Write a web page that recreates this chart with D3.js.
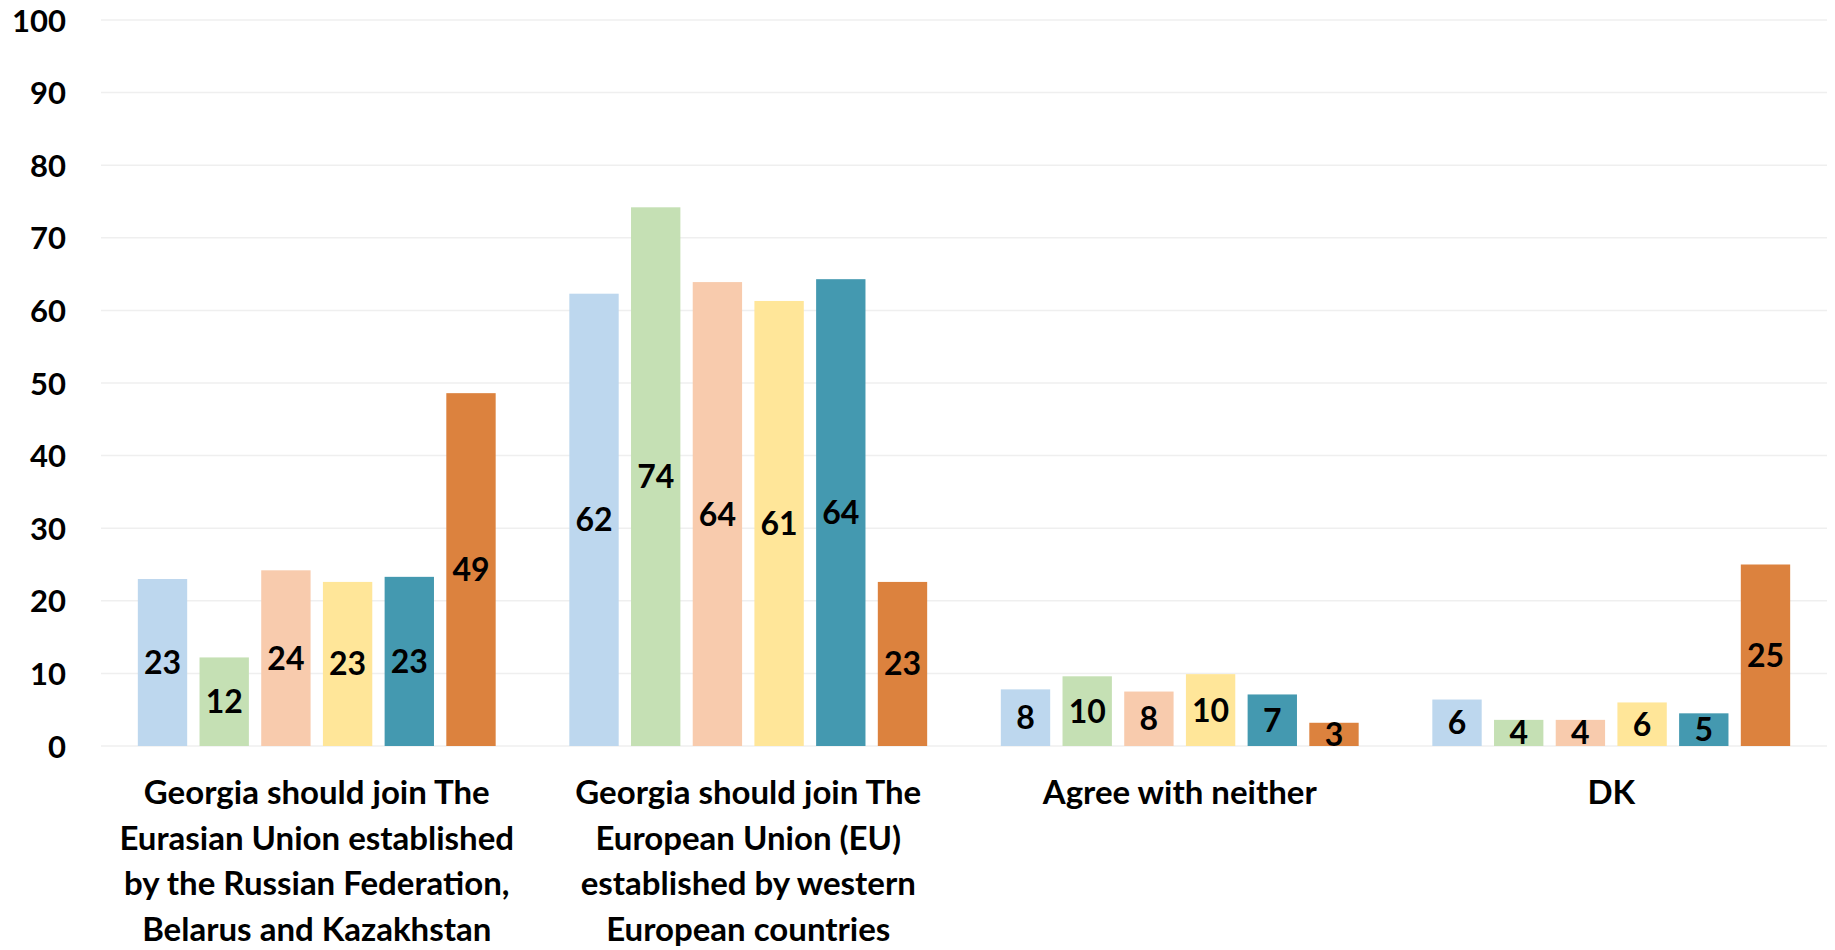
<!DOCTYPE html>
<html>
<head>
<meta charset="utf-8">
<script src="https://cdn.jsdelivr.net/npm/d3@7"></script>
<style>
  html, body { margin: 0; padding: 0; background: #ffffff; }
  svg { display: block; }
  text { font-family: Lato, "Open Sans", sans-serif; font-weight: 700; fill: #000; }
</style>
</head>
<body>
<svg id="chart" width="1835" height="950"></svg>
<script>
// ---- data ----
const categories = ["Eurasian Union", "European Union", "Agree with neither", "DK"];
const categoryLines = [
  ["Georgia should join The", "Eurasian Union established", "by the Russian Federation,", "Belarus and Kazakhstan"],
  ["Georgia should join The", "European Union (EU)", "established by western", "European countries"],
  ["Agree with neither"],
  ["DK"]
];
const seriesNames = ["Series 1", "Series 2", "Series 3", "Series 4", "Series 5", "Series 6"];
const series1 = [23.0, 62.3, 7.8, 6.4];
const series2 = [12.2, 74.2, 9.6, 3.6];
const series3 = [24.2, 63.9, 7.5, 3.6];
const series4 = [22.6, 61.3, 9.9, 6.0];
const series5 = [23.3, 64.3, 7.1, 4.5];
const series6 = [48.6, 22.6, 3.2, 25.0];
const yTicks = [0, 10, 20, 30, 40, 50, 60, 70, 80, 90, 100];
const colors = ["#BDD7EE", "#C5E0B4", "#F8CBAD", "#FFE699", "#4499B0", "#DC823E"];

const allSeries = [series1, series2, series3, series4, series5, series6];

// ---- layout ----
const svg = d3.select("#chart");
const plotLeft = 101, plotRight = 1827, plotTop = 20, plotBottom = 746;

const y = d3.scaleLinear().domain([0, 100]).range([plotBottom, plotTop]);
const x0 = d3.scaleBand().domain(categories).range([plotLeft, plotRight]).padding(0);
const x1 = d3.scaleBand().domain(seriesNames).range([0, x0.bandwidth()])
  .paddingInner(0.2).paddingOuter(0.597);

// gridlines
svg.append("g").selectAll("line").data(yTicks).join("line")
  .attr("x1", plotLeft).attr("x2", plotRight)
  .attr("y1", d => y(d)).attr("y2", d => y(d))
  .attr("stroke", "#efefef").attr("stroke-width", 1.5);

// y axis labels
const yAxis = d3.axisLeft(y).tickValues(yTicks).tickSize(0).tickPadding(0);
const yg = svg.append("g").attr("transform", "translate(66,0)").call(yAxis);
yg.select(".domain").remove();
yg.selectAll("text")
  .attr("font-family", "Lato, sans-serif").attr("font-weight", 700)
  .attr("font-size", 31).attr("fill", "#000").attr("x", 0).attr("dy", "0.36em");

// bars
const groups = svg.append("g").selectAll("g").data(categories).join("g")
  .attr("transform", d => `translate(${x0(d)},0)`);

groups.each(function(cat, ci) {
  const g = d3.select(this);
  const data = seriesNames.map((s, si) => ({ s, si, v: allSeries[si][ci] }));
  g.selectAll("rect").data(data).join("rect")
    .attr("x", d => x1(d.s))
    .attr("width", x1.bandwidth())
    .attr("y", d => y(d.v))
    .attr("height", d => y(0) - y(d.v))
    .attr("fill", d => colors[d.si]);
  g.selectAll("text.val").data(data).join("text")
    .attr("class", "val")
    .attr("x", d => x1(d.s) + x1.bandwidth() / 2)
    .attr("y", d => (y(d.v) + y(0)) / 2)
    .attr("dy", "0.36em")
    .attr("text-anchor", "middle")
    .attr("font-size", 32)
    .text(d => Math.round(d.v));
});

// category labels
const catG = svg.append("g").selectAll("text").data(categories).join("text")
  .attr("text-anchor", "middle")
  .attr("font-size", 33)
  .attr("x", d => x0(d) + x0.bandwidth() / 2)
  .attr("y", 804);
catG.each(function(d, i) {
  d3.select(this).selectAll("tspan").data(categoryLines[i]).join("tspan")
    .attr("x", x0(d) + x0.bandwidth() / 2)
    .attr("dy", (t, j) => j === 0 ? 0 : 45.5)
    .text(t => t);
});
</script>
</body>
</html>
